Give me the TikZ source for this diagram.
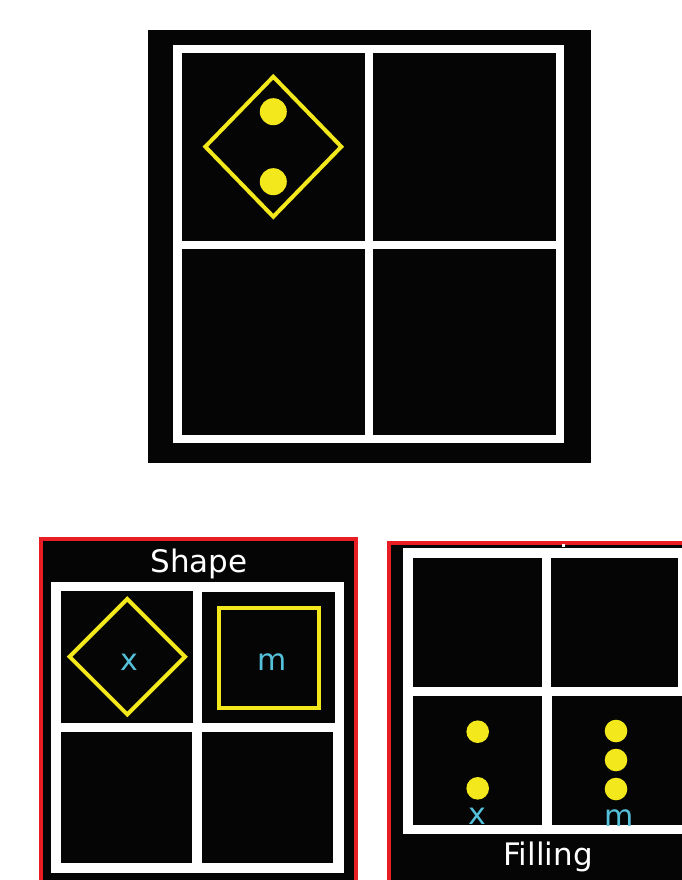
\documentclass[tikz,border=0pt]{standalone}
\usepackage{fontspec}
\setmainfont{DejaVu Sans}
\definecolor{ylw}{RGB}{242,232,28}
\definecolor{cyn}{RGB}{85,192,218}
\definecolor{redb}{RGB}{232,30,36}
\definecolor{blk}{RGB}{4,5,4}
\begin{document}
\begin{tikzpicture}[x=1pt,y=-1pt,
  bg/.style={fill=blk},
  frame/.style={fill=white},
  cell/.style={fill=blk},
  panel/.style={fill=blk,draw=redb,line width=4pt},
  outline/.style={draw=ylw,line width=4pt,line join=miter},
  dot/.style={fill=ylw},
  title/.style={text=white,font=\fontsize{31}{37}\selectfont,inner sep=0pt,anchor=base},
  lbl/.style={text=cyn,font=\fontsize{30}{36}\selectfont,inner sep=0pt,anchor=base},
  lblbg/.style={lbl,fill=blk,inner sep=1pt}]
\useasboundingbox (0,0) rectangle (682,880);
\clip (0,0) rectangle (682,880);
\fill[white] (0,0) rectangle (682,880);

% ---------- top panel ----------
\fill[bg] (148,30) rectangle (591,463);
\fill[frame] (173,45) rectangle (564,443);
\fill[cell] (181.7,53.3) rectangle (365,240.7);
\fill[cell] (373,53.3) rectangle (556,240.7);
\fill[cell] (181.7,249) rectangle (365,435);
\fill[cell] (373,249) rectangle (556,435);
\draw[outline] (273.3,76.7) -- (341.3,146.7) -- (273.3,216.7) -- (205.3,146.7) -- cycle;
\fill[dot] (273.3,111.7) circle (13.5);
\fill[dot] (273.3,181.7) circle (13.5);

% ---------- bottom-left panel (Shape) ----------
\draw[panel] (41.3,538.7) rectangle (356,900);
\node[title] (shape) at (199,572.7) {Shape};
\fill[frame] (50.7,581.7) rectangle (344,873.3);
\fill[cell] (61,591) rectangle (193.3,722.7);
\fill[cell] (202.3,591.7) rectangle (335,722.7);
\fill[cell] (61,732.3) rectangle (192.3,862.7);
\fill[cell] (202.3,732.3) rectangle (333.3,862.7);
\draw[outline] (127.3,599) -- (185,656.7) -- (127.3,714.4) -- (69.6,656.7) -- cycle;
\draw[outline] (218.7,608) rectangle (319,708);
\node[lbl] (sx) at (129,670.7) {x};
\node[lbl] (sm) at (272,670.5) {m};

% ---------- bottom-right panel (Filling) ----------
\draw[panel] (389.3,542.7) rectangle (700,900);
\fill[white] (562,544) rectangle (564.5,546.5);
\fill[frame] (403.3,548.3) rectangle (700,834);
\fill[cell] (413.3,558.3) rectangle (541.7,686.7);
\fill[cell] (551,558.3) rectangle (678.3,686.7);
\fill[cell] (413.3,695.7) rectangle (542.3,825);
\fill[cell] (551.7,695.7) rectangle (690,825);
\fill[dot] (477.7,731.7) circle (11.3);
\fill[dot] (477.7,788.3) circle (11.3);
\fill[dot] (616,731) circle (11.3);
\fill[dot] (616,760) circle (11.3);
\fill[dot] (616,789) circle (11.3);
\node[lblbg] (fx) at (477.7,824) {x};
\node[lbl] (fm) at (619,826) {m};
\node[title] (filling) at (548,865) {Filling};
\end{tikzpicture}
\end{document}
